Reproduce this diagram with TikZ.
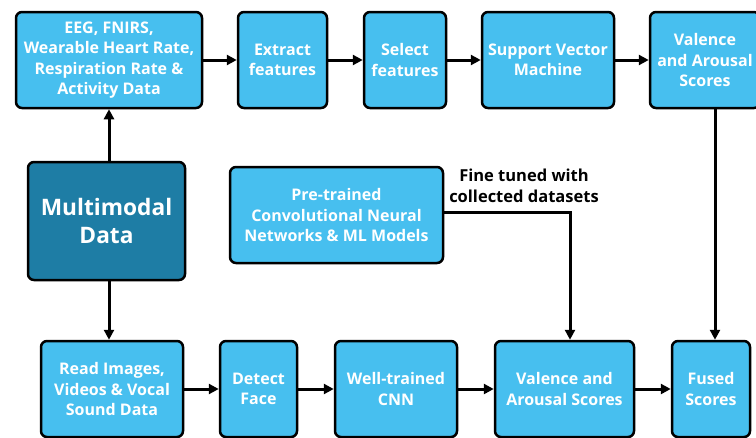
\documentclass[tikz,border=0pt]{standalone}
\usepackage{fontspec}
\setmainfont{Open Sans}
\usetikzlibrary{arrows.meta}
\definecolor{boxblue}{HTML}{47BFEF}
\definecolor{darkblue}{HTML}{1E7DA5}
\begin{document}
\begin{tikzpicture}[x=1pt,y=-1pt]

\tikzset{mybox/.style={rectangle,rounded corners=6pt,draw=black,line width=2.5pt,fill=boxblue,text=white,align=center,inner sep=0pt,minimum height=96pt,font=\fontsize{16}{20.5}\selectfont\bfseries},}
\tikzset{mybox2/.style={mybox,fill=darkblue,font=\fontsize{22.7}{28.5}\selectfont\bfseries},}
\tikzset{mylabel/.style={align=center,inner sep=0pt,font=\fontsize{16.5}{21}\selectfont\bfseries},}
\tikzset{myarrow/.style={-{Triangle[length=10pt,width=10pt]},line width=3pt},}

\useasboundingbox (0,0) rectangle (756,437);
\clip (0,0) rectangle (756,437);

%TOP ROW
\draw (109,60) node [mybox,minimum width=186pt] (sensor) {EEG, FNIRS,\\Wearable Heart Rate,\\Respiration Rate \&\\Activity Data};
\draw (282.5,60) node [mybox,minimum width=89pt] (extract) {Extract\\features};
\draw (405,60) node [mybox,minimum width=82pt] (select) {Select\\features};
\draw (548,60) node [mybox,minimum width=132pt] (svm) {Support Vector\\Machine};
\draw (705,60) node [mybox,minimum width=110pt] (scores1) {Valence\\and Arousal\\Scores};

\draw[myarrow] (sensor) -- (extract);
\draw[myarrow] (extract) -- (select);
\draw[myarrow] (select) -- (svm);
\draw[myarrow] (svm) -- (scores1);

%MIDDLE
\draw (106.5,221) node [mybox2,minimum width=157pt,minimum height=118pt] (multi) {Multimodal\\Data};
\draw (336.5,215) node [mybox,minimum width=213pt] (pretrained) {Pre-trained\\Convolutional Neural\\Networks \& ML Models};
\draw (524,186) node [mylabel] (fine) {Fine tuned with\\collected datasets};

%BOTTOM ROW
\draw (112,389) node [mybox,minimum width=142pt] (read) {Read Images,\\Videos \& Vocal\\Sound Data};
\draw (258.5,389) node [mybox,minimum width=77pt] (face) {Detect\\Face};
\draw (396,389) node [mybox,minimum width=122pt] (cnn) {Well-trained\\CNN};
\draw (564.5,389) node [mybox,minimum width=139pt] (scores2) {Valence and\\Arousal Scores};
\draw (711,389) node [mybox,minimum width=78pt] (fused) {Fused\\Scores};

\draw[myarrow] (read) -- (face);
\draw[myarrow] (face) -- (cnn);
\draw[myarrow] (cnn) -- (scores2);
\draw[myarrow] (scores2) -- (fused);

%LINKS
\draw[myarrow] (multi.north -| sensor.south) -- (sensor.south);
\draw[myarrow] (multi.south -| sensor.south) -- (read.north -| sensor.south);
\draw[myarrow] ([yshift=3pt]pretrained.east) -| ([xshift=5.5pt]scores2.north);
\draw[myarrow] ([xshift=4pt]scores1.south -| fused.north) -- ([xshift=4pt]fused.north);

\end{tikzpicture}
\end{document}
